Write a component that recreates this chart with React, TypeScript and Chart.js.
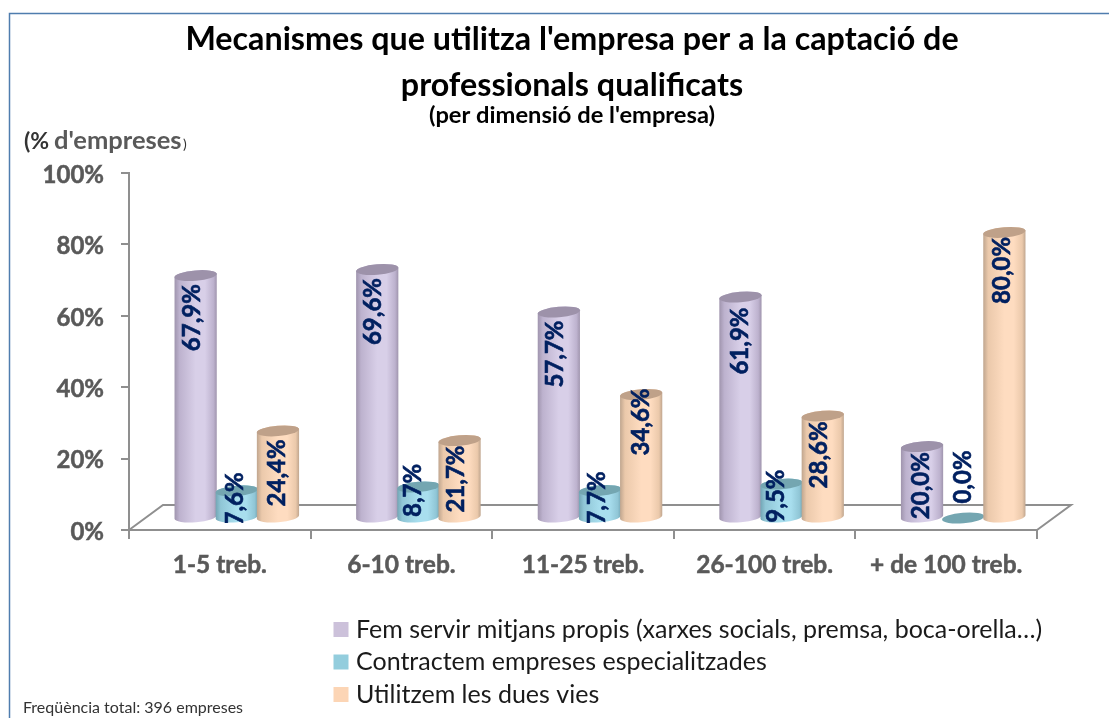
import React, { useEffect, useRef } from "react";
import { Chart, registerables } from "chart.js";

Chart.register(...registerables);

const categories = ["1-5 treb.", "6-10 treb.", "11-25 treb.", "26-100 treb.", "+ de 100 treb."];
const seriesNames = [
  "Fem servir mitjans propis (xarxes socials, premsa, boca-orella…)",
  "Contractem empreses especialitzades",
  "Utilitzem les dues vies",
];
const ownMeans = [67.9, 69.6, 57.7, 61.9, 20.0];
const agencies = [7.6, 8.7, 7.7, 9.5, 0.0];
const bothWays = [24.4, 21.7, 34.6, 28.6, 80.0];
const yTicks = [0, 20, 40, 60, 80, 100];

const titleLines = ["Mecanismes que utilitza l'empresa per a la captació de", "professionals qualificats"];
const subtitleText = "(per dimensió de l'empresa)";
const footnote = "Freqüència total: 396 empreses";

// Styling / placement
const FONT = "Lato, 'Open Sans', sans-serif";
const GREY = "#595959";
const AXIS = "#8f8f8f";
const NAVY = "#002060";
const FLOOR_DX = 34;
const FLOOR_DY = 25;
const BAR_DX = 17;
const BAR_DY = 12;

const seriesStyle = [
  { legend: "#ccc1da", edge: "#9f94ad", mid: "#bdb2ce", light: "#d8cfe8", cap: "#9d92aa" },
  { legend: "#93cddd", edge: "#72a5b4", mid: "#90c6d6", light: "#a8deee", cap: "#74a6b1" },
  { legend: "#fcd5b5", edge: "#bfa58e", mid: "#ebc9ab", light: "#fedcc0", cap: "#bfa189" },
];

// hand-placed data labels: [dx, dy] from the top of each cylinder
const labelNudges = [
  [[-3, 42], [-4, 42], [-4, 42], [0, 44], [-1, 39]],
  [[-2, 8], [-5, 3.5], [-3, 7.5], [-5, 12], [0, -41]],
  [[-1, 42], [-3, 38.5], [0, 27.5], [-3, 39], [-2, 38]],
];

const cylinderPlugin = {
  id: "cylinder",
  afterLayout(chart: any) {
    const lg = chart.legend;
    lg.left = 331;
    lg.right = 1100;
    lg.top = 609.5;
    lg.bottom = 718;
    lg.adjustHitBoxes();
    // keep the long tick labels outside the narrow scale box from being clipped
    chart.scales.y.left = 0;
  },
  beforeDatasetDraw() {
    return false;
  },
  beforeDatasetsDraw(chart: any) {
    const { ctx, chartArea: a } = chart;
    ctx.save();
    // floor
    ctx.strokeStyle = AXIS;
    ctx.lineWidth = 2;
    ctx.beginPath();
    ctx.moveTo(a.left, a.bottom);
    ctx.lineTo(a.left + FLOOR_DX, a.bottom - FLOOR_DY);
    ctx.lineTo(a.right + FLOOR_DX, a.bottom - FLOOR_DY);
    ctx.lineTo(a.right, a.bottom);
    ctx.stroke();
    // cylinders
    chart.data.datasets.forEach((ds: any, di: number) => {
      const st = seriesStyle[di];
      chart.getDatasetMeta(di).data.forEach((bar: any) => {
        const cx = bar.x + BAR_DX;
        const top = bar.y - BAR_DY;
        const base = bar.base - BAR_DY;
        const rx = bar.width / 2 + 0.6;
        const ry = 5.2;
        const rot = -0.085;
        if (base - top > 0.5) {
          const g = ctx.createLinearGradient(cx - rx, 0, cx + rx, 0);
          g.addColorStop(0, st.edge);
          g.addColorStop(0.12, st.mid);
          g.addColorStop(0.5, st.light);
          g.addColorStop(0.72, st.light);
          g.addColorStop(0.92, st.mid);
          g.addColorStop(1, st.edge);
          ctx.fillStyle = g;
          ctx.beginPath();
          ctx.ellipse(cx, base, rx, ry, rot, 0, Math.PI);
          ctx.ellipse(cx, top, rx, ry, rot, Math.PI, 2 * Math.PI);
          ctx.closePath();
          ctx.fill();
        }
        ctx.fillStyle = st.cap;
        ctx.beginPath();
        ctx.ellipse(cx, top, rx, ry, rot, 0, 2 * Math.PI);
        ctx.fill();
      });
    });
    ctx.restore();
  },
  afterDatasetsDraw(chart: any) {
    const { ctx } = chart;
    const clipY = chart.scales.y.getPixelForValue(0) - 7;
    ctx.save();
    ctx.beginPath();
    ctx.rect(0, 0, chart.width, clipY);
    ctx.clip();
    ctx.fillStyle = NAVY;
    ctx.strokeStyle = NAVY;
    ctx.lineWidth = 0.6;
    ctx.font = `bold 24px ${FONT}`;
    ctx.textAlign = "center";
    ctx.textBaseline = "middle";
    chart.data.datasets.forEach((ds: any, di: number) => {
      chart.getDatasetMeta(di).data.forEach((bar: any, i: number) => {
        const [dx, dy] = labelNudges[di][i];
        const text = ds.data[i].toFixed(1).replace(".", ",") + "%";
        ctx.save();
        ctx.translate(bar.x + BAR_DX + dx, bar.y - BAR_DY + dy);
        ctx.rotate(-Math.PI / 2);
        ctx.strokeText(text, 0, 0);
        ctx.fillText(text, 0, 0);
        ctx.restore();
      });
    });
    ctx.restore();
  },
  afterDraw(chart: any) {
    const { ctx } = chart;
    ctx.save();
    // frame
    ctx.strokeStyle = "#4f7dae";
    ctx.lineWidth = 1.5;
    ctx.beginPath();
    ctx.moveTo(9.5, chart.height);
    ctx.lineTo(9.5, 13.5);
    ctx.lineTo(chart.width, 13.5);
    ctx.stroke();
    // axis unit
    ctx.textBaseline = "alphabetic";
    ctx.textAlign = "left";
    ctx.fillStyle = "#333333";
    ctx.font = `bold 23px ${FONT}`;
    ctx.fillText("(%", 24, 149);
    ctx.fillStyle = GREY;
    ctx.font = `bold 25.5px ${FONT}`;
    ctx.fillText("d'empreses", 54, 149);
    ctx.fillStyle = "#333333";
    ctx.font = `14px ${FONT}`;
    ctx.fillText(")", 183, 149);
    // footnote
    ctx.font = `16px ${FONT}`;
    ctx.fillStyle = "#333333";
    ctx.fillText(footnote, 23, 713);
    ctx.restore();
  },
};

export default function App() {
  const ref = useRef<HTMLCanvasElement>(null);
  useEffect(() => {
    const chart = new Chart(ref.current as HTMLCanvasElement, {
      type: "bar",
      data: {
        labels: categories,
        datasets: [ownMeans, agencies, bothWays].map((data, i) => ({
          label: seriesNames[i],
          data,
          backgroundColor: seriesStyle[i].legend,
          borderWidth: 0,
          barPercentage: 1,
          categoryPercentage: 0.68,
        })),
      },
      plugins: [cylinderPlugin],
      options: {
        responsive: false,
        animation: false,
        layout: { padding: { left: 107, right: 72, top: 0, bottom: 0 } },
        plugins: {
          title: {
            display: true,
            text: titleLines,
            color: "#000000",
            font: { family: FONT, size: 32.25, weight: "bold", lineHeight: 1.442 },
            padding: { top: 16.25, bottom: 0 },
          },
          subtitle: {
            display: true,
            text: subtitleText,
            color: "#000000",
            font: { family: FONT, size: 23.7, weight: "bold", lineHeight: 0.49 },
            padding: { top: 0, bottom: 52.15 },
          },
          legend: {
            position: "chartArea",
            align: "start",
            labels: {
              usePointStyle: true,
              pointStyle: "rect",
              boxWidth: 5,
              boxHeight: 15,
              padding: 7.5,
              color: "#1a1a1a",
              font: { family: FONT, size: 25 },
            },
          },
          tooltip: { enabled: false },
        },
        scales: {
          x: {
            afterFit(scale: any) {
              scale.height = 188;
            },
            grid: { drawOnChartArea: false, color: AXIS, lineWidth: 2, tickLength: 9 },
            border: { color: AXIS, width: 2 },
            ticks: {
              color: GREY,
              padding: 11,
              maxRotation: 0,
              autoSkip: false,
              textStrokeColor: GREY,
              textStrokeWidth: 0.5,
              font: { family: FONT, size: 24.5, weight: "bold" },
            },
          },
          y: {
            min: 0,
            max: 100,
            afterFit(scale: any) {
              scale.width = 22;
            },
            afterBuildTicks(scale: any) {
              scale.ticks = yTicks.map((value) => ({ value }));
            },
            grid: { drawOnChartArea: false, color: AXIS, lineWidth: 2, tickLength: 8 },
            border: { color: AXIS, width: 2 },
            ticks: {
              color: GREY,
              padding: 17,
              labelOffset: 2,
              textStrokeColor: GREY,
              textStrokeWidth: 0.5,
              callback: (v: any) => v + "%",
              font: { family: FONT, size: 24, weight: "bold" },
            },
          },
        },
      } as any,
    } as any);
    return () => chart.destroy();
  }, []);
  return (
    <div style={{ position: "absolute", left: 0, top: 0, width: 1109, height: 718, overflow: "hidden", background: "#fff" }}>
      <canvas ref={ref} width={1109} height={718} style={{ display: "block" }} />
    </div>
  );
}
